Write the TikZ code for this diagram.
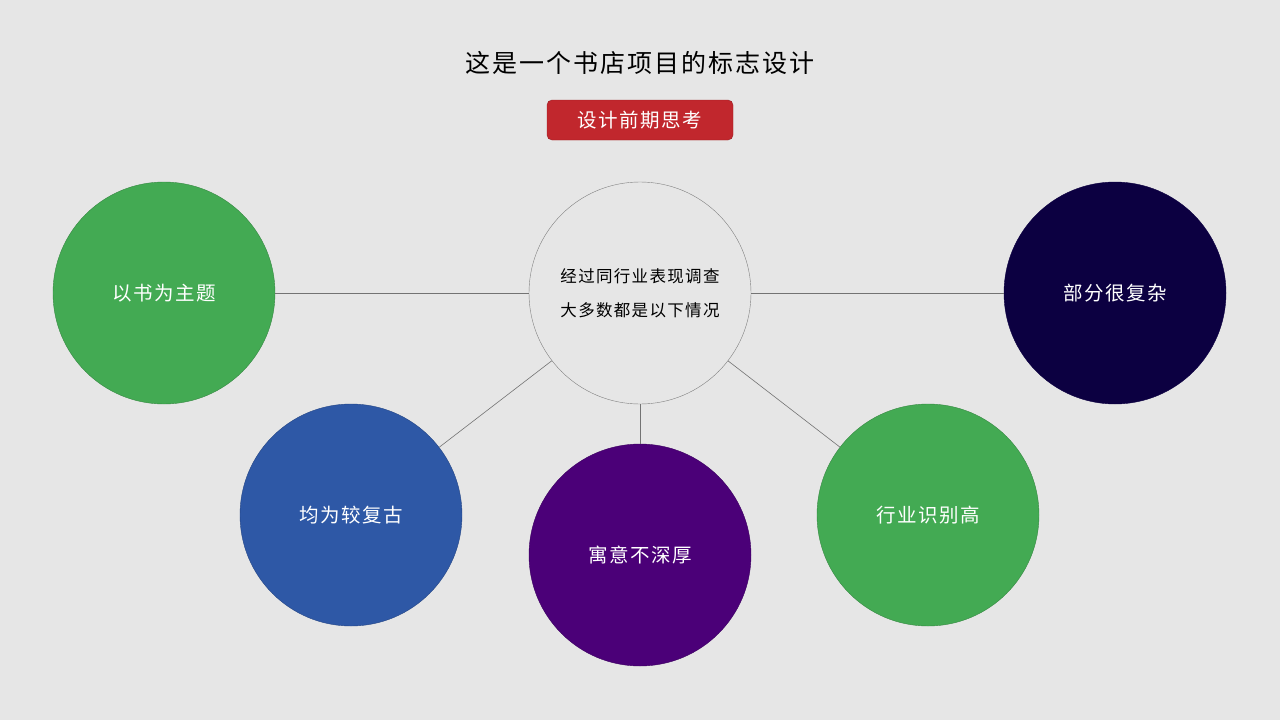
\documentclass[tikz,border=0pt]{standalone}
\usepackage{fontspec}
\newfontfamily\cjk[LetterSpace=8]{Noto Sans CJK SC}
\definecolor{bg}{HTML}{E6E6E6}
\definecolor{cgreen}{HTML}{43AA53}
\definecolor{cblue}{HTML}{2E58A6}
\definecolor{cpurple}{HTML}{4B0078}
\definecolor{cnavy}{HTML}{0C0041}
\definecolor{cred}{HTML}{C1272D}
\begin{document}
\begin{tikzpicture}[x=1pt,y=-1pt,
  bubble/.style={circle,minimum size=222pt,inner sep=0pt,text=white,font=\cjk\fontsize{19.5}{23}\selectfont},
  link/.style={draw=gray!90!black,line width=0.6pt}]
\fill[bg] (0,0) rectangle (1280,720);
\useasboundingbox (0,0) rectangle (1280,720);
\node[font=\cjk\fontsize{25}{29}\selectfont] (title) at (640,63) {这是一个书店项目的标志设计};
\node[fill=cred,draw=cred!80!black,rounded corners=5pt,minimum width=186pt,minimum height=40pt,text=white,font=\cjk\fontsize{19.5}{23}\selectfont] (btn) at (640,120) {设计前期思考};
\node[bubble,fill=bg,draw=gray,text=black,font=\cjk\fontsize{16.5}{34}\selectfont,align=center] (c) at (640,293) {经过同行业表现调查\\大多数都是以下情况};
\node[bubble,fill=cgreen,draw=cgreen!80!black] (a) at (164,293) {以书为主题};
\node[bubble,fill=cnavy,draw=cnavy] (b) at (1115,293) {部分很复杂};
\node[bubble,fill=cblue,draw=cblue!80!black] (d) at (351,515) {均为较复古};
\node[bubble,fill=cpurple,draw=cpurple!80!black] (e) at (640,555) {寓意不深厚};
\node[bubble,fill=cgreen,draw=cgreen!80!black] (f) at (928,515) {行业识别高};
\draw[link] (a) -- (c);
\draw[link] (c) -- (b);
\draw[link] (c) -- (d);
\draw[link] (c) -- (e);
\draw[link] (c) -- (f);
\end{tikzpicture}
\end{document}
